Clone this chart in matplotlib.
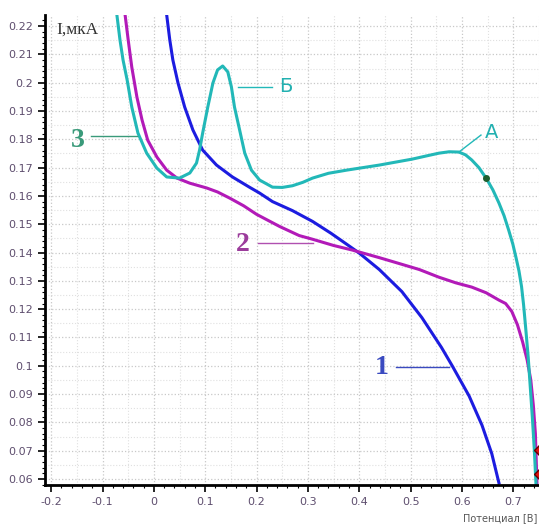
import numpy as np
import matplotlib.pyplot as plt
from matplotlib.ticker import MultipleLocator, FixedLocator

# кривая 1 (синяя)
x1 = [0.025, 0.031, 0.037, 0.047, 0.060, 0.076, 0.095, 0.122, 0.153, 0.186, 0.206, 0.231,
      0.270, 0.309, 0.345, 0.375, 0.400, 0.439, 0.483, 0.522, 0.560, 0.581, 0.614, 0.639,
      0.658, 0.672]
y1 = [0.2239, 0.2151, 0.2080, 0.1999, 0.1914, 0.1833, 0.1762, 0.1709, 0.1667, 0.1631, 0.1610,
      0.1580, 0.1548, 0.1510, 0.1468, 0.1430, 0.1398, 0.1340, 0.1262, 0.1170, 0.1065, 0.1000,
      0.0893, 0.0790, 0.0690, 0.0586]

# кривая 2 (пурпурная)
x2 = [-0.056, -0.050, -0.043, -0.033, -0.023, -0.012, 0.006, 0.025, 0.045, 0.070, 0.103,
      0.124, 0.148, 0.175, 0.200, 0.245, 0.283, 0.309, 0.350, 0.386, 0.439, 0.480, 0.517,
      0.555, 0.588, 0.619, 0.647, 0.672, 0.685, 0.697, 0.708, 0.718, 0.727, 0.734, 0.739,
      0.743, 0.746]
y2 = [0.2239, 0.2151, 0.2055, 0.1949, 0.1868, 0.1797, 0.1737, 0.1691, 0.1663, 0.1645, 0.1628,
      0.1614, 0.1592, 0.1565, 0.1535, 0.1492, 0.1460, 0.1447, 0.1425, 0.1409, 0.1382, 0.1360,
      0.1340, 0.1313, 0.1293, 0.1278, 0.1258, 0.1232, 0.1220, 0.1192, 0.1145, 0.1085, 0.1020,
      0.0950, 0.0860, 0.0760, 0.0586]

# кривая 3 (бирюзовая)
x3 = [-0.072, -0.066, -0.060, -0.052, -0.043, -0.031, -0.014, 0.006, 0.025, 0.050, 0.070,
      0.083, 0.089, 0.095, 0.105, 0.115, 0.124, 0.134, 0.144, 0.151, 0.157, 0.167, 0.177,
      0.190, 0.206, 0.231, 0.250, 0.270, 0.290, 0.309, 0.340, 0.375, 0.439, 0.503, 0.530,
      0.555, 0.575, 0.594, 0.607, 0.619, 0.633, 0.647, 0.660, 0.672, 0.682, 0.691, 0.699,
      0.705, 0.711, 0.716, 0.720, 0.724, 0.729, 0.733, 0.737, 0.741, 0.744]
y3 = [0.2239, 0.2151, 0.2080, 0.2009, 0.1914, 0.1822, 0.1751, 0.1698, 0.1667, 0.1663, 0.1681,
      0.1716, 0.1762, 0.1822, 0.1914, 0.1999, 0.2045, 0.2059, 0.2038, 0.1985, 0.1914, 0.1833,
      0.1751, 0.1691, 0.1656, 0.1631, 0.1630, 0.1636, 0.1648, 0.1663, 0.1680, 0.1691, 0.1709,
      0.1730, 0.1741, 0.1751, 0.1756, 0.1755, 0.1745, 0.1727, 0.1700, 0.1663, 0.1622, 0.1575,
      0.1530, 0.1479, 0.1430, 0.1384, 0.1335, 0.1280, 0.1215, 0.1135, 0.1030, 0.0925, 0.0819,
      0.0700, 0.0586]

# маркеры
green_pt = (0.647, 0.1663)
red_y = [0.0702, 0.0618]

fig = plt.figure(figsize=(5.39, 5.29), dpi=100)
ax = fig.add_axes([0.0835, 0.0832, 0.9165, 0.8884])

tick_col = '#5e4e6e'

# сетка
ax.grid(True, which='major', linestyle=':', color='#c8c8c8', linewidth=0.9)
for xv in np.arange(-0.15, 0.76, 0.1):
    ax.axvline(xv, linestyle=':', color='#e0e0e0', linewidth=0.8, zorder=0)
for yv in np.arange(0.065, 0.225, 0.01):
    ax.axhline(yv, linestyle=':', color='#e0e0e0', linewidth=0.8, zorder=0)

ax.plot(x1, y1, color='#1c1ce0', lw=2.2, solid_joinstyle='round')
ax.plot(x2, y2, color='#b21ab8', lw=2.2, solid_joinstyle='round')
ax.plot(x3, y3, color='#22b8b8', lw=2.2, solid_joinstyle='round')

ax.plot(*green_pt, 'o', color='#1f5f2f', ms=4, zorder=5)
ax.plot([0.75] * len(red_y), red_y, 'D', color='#e01010', mec='#600000', ms=5,
        clip_on=True, zorder=5)

# подписи кривых
ax.plot([0.472, 0.575], [0.0995, 0.0995], color='#3a4ac0', lw=1)
ax.text(0.443, 0.0995, '1', color='#3a4ac0', fontsize=20, fontweight='bold',
        family='Liberation Serif', ha='center', va='center')
ax.plot([0.202, 0.309], [0.1433, 0.1433], color='#b050b0', lw=1)
ax.text(0.173, 0.1427, '2', color='#9b3c9b', fontsize=20, fontweight='bold',
        family='Liberation Serif', ha='center', va='center')
ax.plot([-0.122, -0.033], [0.1811, 0.1811], color='#3a9a7a', lw=1)
ax.text(-0.148, 0.1795, '3', color='#3a9a7a', fontsize=20, fontweight='bold',
        family='Liberation Serif', ha='center', va='center')
ax.plot([0.163, 0.231], [0.1985, 0.1985], color='#22b8b8', lw=1)
ax.text(0.243, 0.1985, 'Б', color='#22b0b0', fontsize=14, ha='left', va='center')
ax.plot([0.594, 0.637], [0.1755, 0.1815], color='#22b8b8', lw=1)
ax.text(0.645, 0.1825, 'A', color='#22b0b0', fontsize=14, ha='left', va='center')

ax.text(-0.19, 0.2186, 'I,мкА', color='#333333', fontsize=12.5, family='Liberation Serif',
        ha='left', va='center')
fig.text(0.997, 0.012, 'Потенциал [B]', color='#555555', fontsize=7, ha='right', va='bottom')

ax.set_xlim(-0.212, 0.75)
ax.set_ylim(0.0579, 0.2239)
ax.xaxis.set_major_locator(FixedLocator(np.round(np.arange(-0.2, 0.71, 0.1), 2)))
ax.yaxis.set_major_locator(FixedLocator(np.round(np.arange(0.06, 0.221, 0.01), 2)))
ax.xaxis.set_minor_locator(MultipleLocator(0.02))
ax.yaxis.set_minor_locator(MultipleLocator(0.002))
ax.set_xticklabels([f'{v:g}' for v in np.round(np.arange(-0.2, 0.71, 0.1), 2)])
ax.set_yticklabels([f'{v:g}' for v in np.round(np.arange(0.06, 0.221, 0.01), 2)])

for s in ['top', 'right']:
    ax.spines[s].set_visible(False)
for s in ['left', 'bottom']:
    ax.spines[s].set_linewidth(2)
ax.tick_params(which='major', length=5, width=1.2, color='black', labelsize=8,
               labelcolor=tick_col, direction='out')
ax.tick_params(which='minor', length=2.5, width=0.8, color='black', direction='out')

fig.savefig('out.png', dpi=100)
